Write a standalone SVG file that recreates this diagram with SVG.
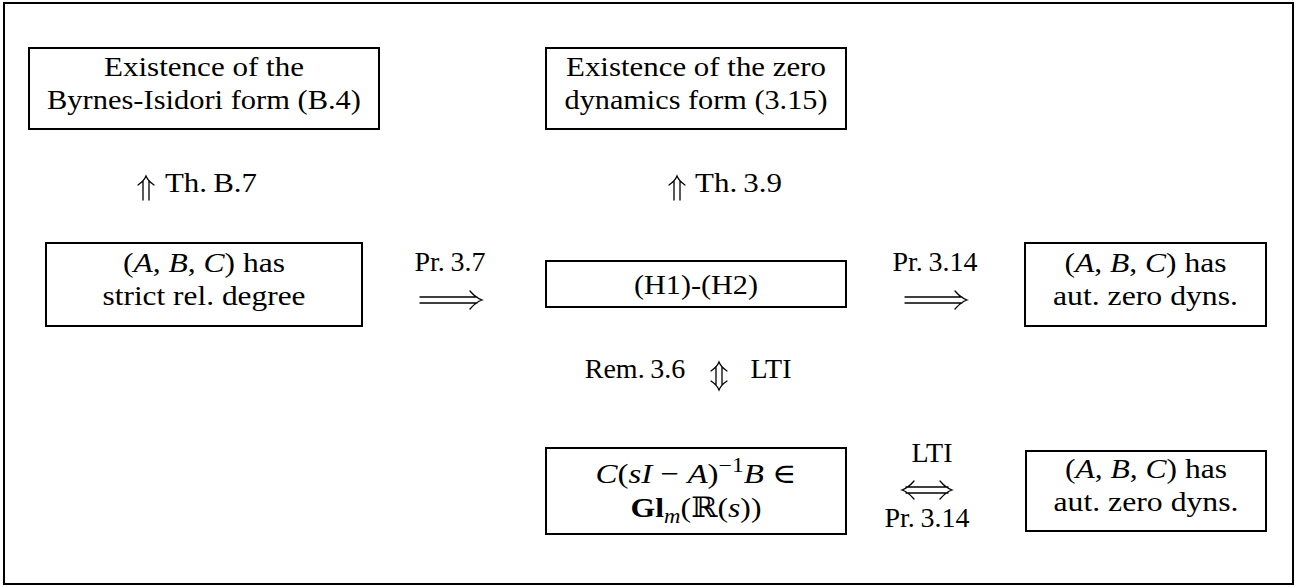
<svg xmlns="http://www.w3.org/2000/svg" width="1302" height="587" viewBox="0 0 1302 587">
<style>
.frame{fill:none;stroke:#000;stroke-width:2}
.box{fill:#fff;stroke:#000;stroke-width:2}
.t{font-family:"Liberation Serif","DejaVu Serif",serif;font-size:28px;fill:#000;text-anchor:middle}
.s{text-anchor:start}
.i{font-style:italic}
.arr{fill:none;stroke:#000;stroke-width:1.3;stroke-linecap:round}
</style>
<defs>
<g id="implies"><path d="M-62,-3H-5M-62,3H-5M-12,-9Q-6,-2 0,0Q-6,2 -12,9"/></g>
<g id="up"><path d="M-3,5V24M3,5V24M-8,9Q-2,5 0,0Q2,5 8,9"/></g>
<g id="updown"><path d="M-3,5V23M3,5V23M-8,9Q-2,5 0,0Q2,5 8,9M-8,19Q-2,23 0,28Q2,23 8,19"/></g>
</defs>
<rect class="frame" x="4" y="3" width="1289" height="581"/>
<g id="connectors" class="arr">
<use href="#up" x="146" y="176"/>
<use href="#up" x="677" y="176"/>
<use href="#implies" x="482" y="300"/>
<use href="#implies" x="967" y="300"/>
<use href="#updown" x="719" y="362"/>
<path d="M906,487H948M906,493H948M914,481Q908,488 902,490Q908,492 914,499M940,481Q946,488 952,490Q946,492 940,499"/>
</g>
<g id="labels">
<text class="t s" x="165" y="192" textLength="92" lengthAdjust="spacingAndGlyphs">Th.&#8201;B.7</text>
<text class="t s" x="695" y="192" textLength="87" lengthAdjust="spacingAndGlyphs">Th.&#8201;3.9</text>
<text class="t" x="450" y="271">Pr.&#8201;3.7</text>
<text class="t" x="935" y="271">Pr.&#8201;3.14</text>
<text class="t" x="635" y="378">Rem.&#8201;3.6</text>
<text class="t" x="771" y="378">LTI</text>
<text class="t" x="932" y="462">LTI</text>
<text class="t" x="927" y="527">Pr.&#8201;3.14</text>
</g>
<g id="n1">
<rect class="box" x="29" y="48" width="350" height="81"/>
<text class="t" x="204" y="76" textLength="200" lengthAdjust="spacingAndGlyphs">Existence of the</text>
<text class="t" x="204" y="109" textLength="314" lengthAdjust="spacingAndGlyphs">Byrnes-Isidori form (B.4)</text>
</g>
<g id="n2">
<rect class="box" x="546" y="48" width="300" height="81"/>
<text class="t" x="696" y="76" textLength="260" lengthAdjust="spacingAndGlyphs">Existence of the zero</text>
<text class="t" x="696" y="109" textLength="263" lengthAdjust="spacingAndGlyphs">dynamics form (3.15)</text>
</g>
<g id="n3">
<rect class="box" x="46" y="243" width="316" height="83"/>
<text class="t" x="204" y="272" textLength="162" lengthAdjust="spacingAndGlyphs">(<tspan class="i">A</tspan>, <tspan class="i">B</tspan>, <tspan class="i">C</tspan>) has</text>
<text class="t" x="204" y="305" textLength="203" lengthAdjust="spacingAndGlyphs">strict rel. degree</text>
</g>
<g id="n4">
<rect class="box" x="546" y="261" width="300" height="46"/>
<text class="t" x="696" y="294" textLength="124" lengthAdjust="spacingAndGlyphs">(H1)-(H2)</text>
</g>
<g id="n5">
<rect class="box" x="1025" y="243" width="241" height="83"/>
<text class="t" x="1145.5" y="272" textLength="162" lengthAdjust="spacingAndGlyphs">(<tspan class="i">A</tspan>, <tspan class="i">B</tspan>, <tspan class="i">C</tspan>) has</text>
<text class="t" x="1145.5" y="305" textLength="185" lengthAdjust="spacingAndGlyphs">aut. zero dyns.</text>
</g>
<g id="n6">
<rect class="box" x="546" y="448" width="300" height="86"/>
<text class="t" x="696" y="483" textLength="201" lengthAdjust="spacingAndGlyphs"><tspan class="i">C</tspan>(<tspan class="i">sI</tspan> − <tspan class="i">A</tspan>)<tspan font-size="20" dy="-11">−1</tspan><tspan class="i" dy="11">B</tspan> ∈</text>
<text class="t" x="696" y="517" textLength="131" lengthAdjust="spacingAndGlyphs"><tspan font-weight="bold">Gl</tspan><tspan class="i" font-size="20" dy="6">m</tspan><tspan dy="-6">(</tspan><tspan font-family="DejaVu Serif">ℝ</tspan>(<tspan class="i">s</tspan>))</text>
</g>
<g id="n7">
<rect class="box" x="1026" y="451" width="240" height="80"/>
<text class="t" x="1146" y="478" textLength="162" lengthAdjust="spacingAndGlyphs">(<tspan class="i">A</tspan>, <tspan class="i">B</tspan>, <tspan class="i">C</tspan>) has</text>
<text class="t" x="1146" y="511" textLength="185" lengthAdjust="spacingAndGlyphs">aut. zero dyns.</text>
</g>
</svg>
